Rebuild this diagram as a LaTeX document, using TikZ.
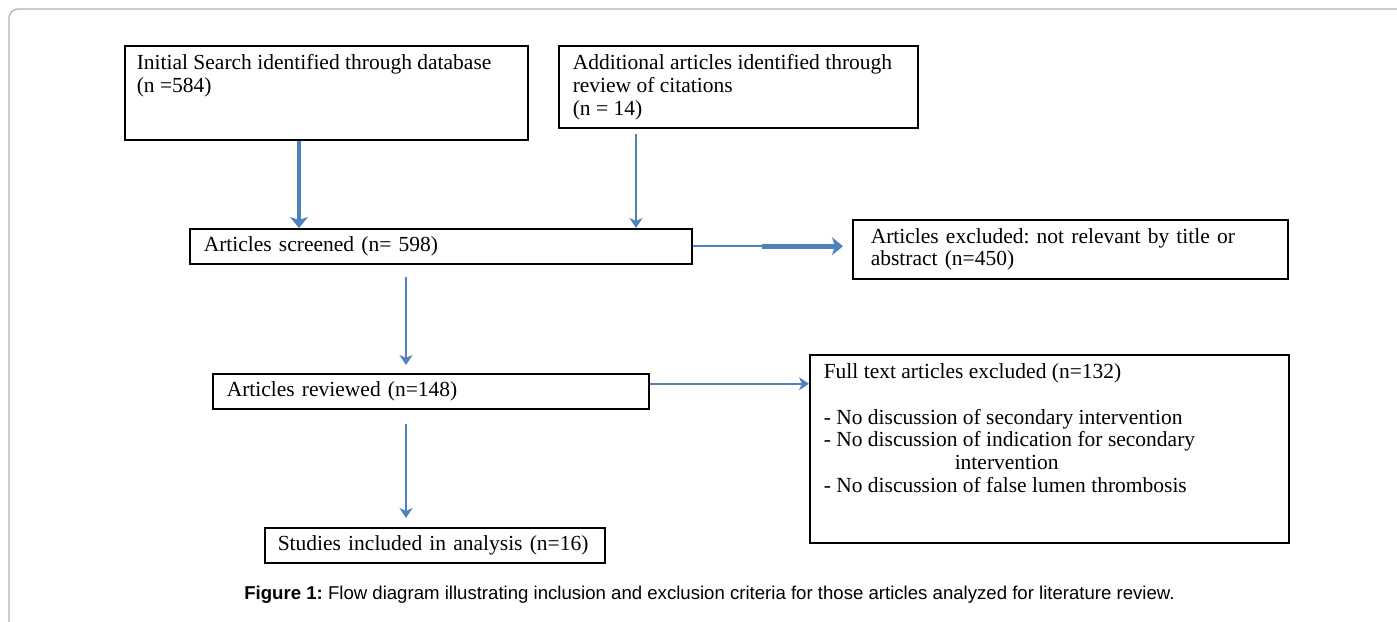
\documentclass[tikz,border=0pt]{standalone}
\usepackage{fontspec}
\setmainfont{Liberation Serif}
\newfontfamily\captionfont{Liberation Sans}
\usetikzlibrary{arrows.meta}

\definecolor{flowblue}{RGB}{79,129,189}
\newcommand{\boxfont}{\fontsize{21.5}{22.7}\selectfont}
\newcommand{\topbox}[3]{\parbox[c][#2][t]{#1}{\raggedright\strut #3}}
\frenchspacing

\tikzset{
  box/.style = {draw=black, line width=1.5pt, anchor=north west, inner xsep=14pt, inner ysep=4pt, align=left, font=\boxfont},
  top box/.style = {box, inner ysep=8pt},
  flow/.style = {draw=flowblue, line width=2pt, -{Stealth[length=10pt, width=13pt, inset=3pt]}},
  flow thick/.style = {flow, line width=4.5pt, -{Stealth[length=11pt, width=18pt, inset=3pt]}},
  frame/.style = {draw=gray!60, line width=1.3pt, rounded corners=9pt}
}

\begin{document}
\begin{tikzpicture}[x=1pt, y=-1pt]
  \useasboundingbox (0,0) rectangle (1397,621);
  \draw[frame] (9,660) -- (9,9) -- (1430,9);

  \begin{scope}[every node/.style = {box}]
    \node(search) at (124,45) [top box, inner xsep=12pt] {\topbox{379pt}{78pt}{Initial Search identified through database\\(n =584)}};
    \node(citations) at (558,45) [top box] {\topbox{331pt}{66pt}{Additional articles identified through\\review of citations\\(n = 14)}};
    \node(screened) at (189,228) [text width=474pt, minimum height=35pt] {Articles screened (n= 598)};
    \node(excluded) at (852,219) [text width=399pt, inner xsep=18pt, minimum height=59pt] {Articles excluded: not relevant by title or\\abstract (n=450)};
    \node(reviewed) at (212,373) [text width=408pt, minimum height=35pt] {Articles reviewed (n=148)};
    \node(fulltext) at (809,354) [top box] {\topbox{451pt}{172pt}{Full text articles excluded (n=132)\\[22.7pt]
      - No discussion of secondary intervention\\
      - No discussion of indication for secondary\\
      \hspace*{131pt}intervention\\
      - No discussion of false lumen thrombosis}};
    \node(included) at (264,527) [text width=314pt, inner xsep=13pt, minimum height=35pt] {Studies included in analysis (n=16)};
  \end{scope}

  \node(caption) at (709.5,595) [font=\captionfont\fontsize{18.6}{21}\selectfont] {\textbf{Figure 1:} Flow diagram illustrating inclusion and exclusion criteria for those articles analyzed for literature review.};

  \coordinate (col1) at (299,0);
  \coordinate (col2) at (636,0);
  \coordinate (col3) at (406,0);
  \coordinate (split) at (762,0);

  \begin{scope}[every edge/.style = {flow}]
    \path(col1 |- search.south) edge[flow thick] (col1 |- screened.north);
    \path(col2 |- citations.south) edge[shorten <=5pt] (col2 |- screened.north);
    \path(screened.east) edge[-] (split |- screened.east);
    \path(split |- screened.east) edge[flow thick, shorten >=9pt] (screened.east -| excluded.west);
    \path(col3 |- screened.south) edge[shorten <=12pt, shorten >=8pt] (col3 |- reviewed.north);
    \path([yshift=7.5pt]reviewed.east) edge[] ([yshift=7.5pt]reviewed.east -| fulltext.west);
    \path(col3 |- reviewed.south) edge[shorten <=14pt, shorten >=9pt] (col3 |- included.north);
  \end{scope}
\end{tikzpicture}
\end{document}
